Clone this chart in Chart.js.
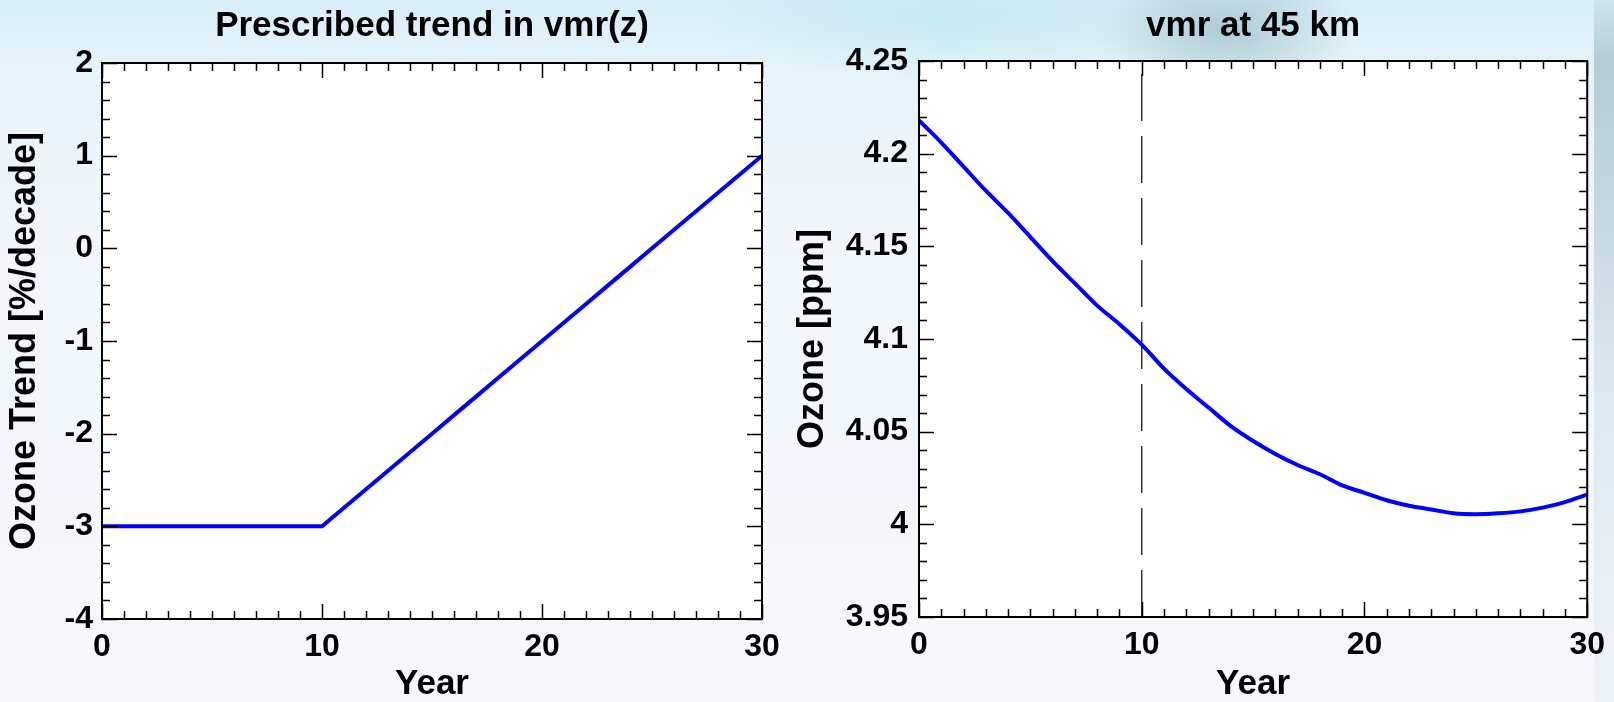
<!DOCTYPE html>
<html>
<head>
<meta charset="utf-8">
<script src="https://cdn.jsdelivr.net/npm/chart.js@4.4.1/dist/chart.umd.min.js"></script>
<style>
  html, body { margin: 0; padding: 0; }
  body {
    width: 1614px;
    height: 702px;
    overflow: hidden;
    position: relative;
    background:
      radial-gradient(ellipse 130px 75px at 1225px 30px, rgba(140, 178, 190, 0.6), rgba(140, 178, 190, 0) 100%),
      radial-gradient(ellipse 260px 60px at 950px 20px, rgba(190, 232, 240, 0.7), rgba(190, 232, 240, 0) 100%),
      linear-gradient(to bottom, #d8eef8 0px, #e6f3fa 70px, #f0f6fb 220px, #f6f9fc 702px);
  }
  #edge {
    position: absolute; left: 1594px; top: 0; width: 20px; height: 702px;
    background: linear-gradient(to bottom, #cfe4ec 0px, #b4cdd5 60px, #c4d6df 200px, #dfe9f1 400px, #eef3f8 702px);
  }
  #leftBox { position: absolute; left: 0; top: 0; }
  #rightBox { position: absolute; left: 790px; top: 0; }
</style>
</head>
<body>
<div id="edge"></div>
<div id="leftBox"><canvas id="trendChart" width="790" height="702"></canvas></div>
<div id="rightBox"><canvas id="vmrChart" width="824" height="702"></canvas></div>
<script>
// values
const years = [0, 1, 2, 3, 4, 5, 6, 7, 8, 9, 10, 11, 12, 13, 14, 15, 16, 17, 18, 19, 20,
               21, 22, 23, 24, 25, 26, 27, 28, 29, 30];
const trendValues = [-3, -3, -3, -3, -3, -3, -3, -3, -3, -3, -3, -2.8, -2.6, -2.4, -2.2, -2.0,
                     -1.8, -1.6, -1.4, -1.2, -1.0, -0.8, -0.6, -0.4, -0.2, 0, 0.2, 0.4, 0.6, 0.8, 1.0];
const vmrValues = [4.218, 4.206, 4.193, 4.180, 4.168, 4.155, 4.142, 4.130, 4.118, 4.108, 4.097,
                   4.084, 4.073, 4.063, 4.053, 4.045, 4.038, 4.032, 4.027, 4.021, 4.017,
                   4.013, 4.010, 4.008, 4.006, 4.0055, 4.006, 4.007, 4.009, 4.012, 4.016];
const xTickValues = [0, 10, 20, 30];
const trendTicks = [-4, -3, -2, -1, 0, 1, 2];
const vmrTicks = [3.95, 4, 4.05, 4.1, 4.15, 4.2, 4.25];
const markerYear = 10;

const FONT = '"Liberation Sans", Arial, Helvetica, sans-serif';

// white plot area, black frame, inward major/minor ticks on all four sides
const framePlugin = {
    id: 'frame',
    beforeDraw(chart) {
        const { ctx, chartArea: a } = chart;
        ctx.save();
        ctx.fillStyle = '#ffffff';
        ctx.fillRect(a.left, a.top, a.width, a.height);
        ctx.restore();
    },
    afterDraw(chart, args, opts) {
        const { ctx, chartArea: a } = chart;
        const x = chart.scales.x;
        const y = chart.scales.y;
        ctx.save();
        ctx.strokeStyle = '#000';
        ctx.lineWidth = 1.5;
        ctx.beginPath();

        const nx = Math.round((x.max - x.min) / opts.xMinor);
        for (let i = 0; i <= nx; i++) {
            const v = x.min + i * opts.xMinor;
            const r = v / opts.xMajor;
            const len = Math.abs(r - Math.round(r)) < 1e-6 ? 15 : 8;
            const px = Math.round(x.getPixelForValue(v)) + 0.5;
            ctx.moveTo(px, a.bottom); ctx.lineTo(px, a.bottom - len);
            ctx.moveTo(px, a.top); ctx.lineTo(px, a.top + len);
        }

        const ny = Math.round((y.max - y.min) / opts.yMinor);
        for (let i = 0; i <= ny; i++) {
            const v = y.min + i * opts.yMinor;
            const r = (v - y.min) / opts.yMajor;
            const len = Math.abs(r - Math.round(r)) < 1e-6 ? 15 : 8;
            const py = Math.round(y.getPixelForValue(v)) + 0.5;
            ctx.moveTo(a.left, py); ctx.lineTo(a.left + len, py);
            ctx.moveTo(a.right, py); ctx.lineTo(a.right - len, py);
        }
        ctx.stroke();

        ctx.lineWidth = 2;
        ctx.strokeRect(a.left, a.top, a.width, a.height);
        ctx.restore();
    }
};

function makeOptions(cfg) {
    return {
        responsive: false,
        animation: false,
        layout: { padding: { left: 0, top: 0, right: cfg.rightPad, bottom: 0 } },
        plugins: {
            legend: { display: false },
            tooltip: { enabled: false },
            title: {
                display: true,
                text: cfg.title,
                fullSize: false,
                color: '#000',
                font: { family: FONT, size: 35, weight: 'bold', lineHeight: 1 },
                padding: { top: 8.5, bottom: cfg.titleBottom }
            },
            frame: cfg.frame
        },
        scales: {
            x: {
                type: 'linear',
                min: 0,
                max: 30,
                afterBuildTicks: s => { s.ticks = xTickValues.map(v => ({ value: v })); },
                afterFit: s => { s.height = cfg.xHeight; },
                grid: { display: false, drawTicks: false },
                border: { display: false },
                ticks: {
                    color: '#000',
                    padding: 9,
                    maxRotation: 0,
                    autoSkip: false,
                    font: { family: FONT, size: 32, weight: 'bold' },
                    callback: v => String(v)
                },
                title: {
                    display: true,
                    text: 'Year',
                    color: '#000',
                    font: { family: FONT, size: 35, weight: 'bold', lineHeight: 1 },
                    padding: { top: 0, bottom: 0 }
                }
            },
            y: {
                type: 'linear',
                min: cfg.yMin,
                max: cfg.yMax,
                afterBuildTicks: s => { s.ticks = cfg.yTicks.map(v => ({ value: v })); },
                afterFit: s => { s.width = cfg.yWidth; },
                grid: { display: false, drawTicks: false },
                border: { display: false },
                ticks: {
                    color: '#000',
                    padding: cfg.yTickPad,
                    autoSkip: false,
                    font: { family: FONT, size: 32, weight: 'bold' },
                    callback: v => String(+v.toFixed(2))
                },
                title: {
                    display: true,
                    text: cfg.yTitle,
                    color: '#000',
                    font: { family: FONT, size: 36, weight: 'bold', lineHeight: 1 },
                    padding: { top: cfg.yTitlePad, bottom: 0 }
                }
            }
        }
    };
}

new Chart(document.getElementById('trendChart').getContext('2d'), {
    type: 'line',
    data: {
        datasets: [{
            data: years.map((yr, i) => ({ x: yr, y: trendValues[i] })),
            borderColor: '#0000ff',
            borderWidth: 4,
            pointRadius: 0,
            tension: 0
        }]
    },
    options: makeOptions({
        title: 'Prescribed trend in vmr(z)',
        titleBottom: 19.5,
        rightPad: 28,
        xHeight: 83,
        yMin: -4,
        yMax: 2,
        yTicks: trendTicks,
        yWidth: 102,
        yTickPad: 9,
        yTitle: 'Ozone Trend [%/decade]',
        yTitlePad: 7,
        frame: { xMinor: 1, xMajor: 10, yMinor: 0.2, yMajor: 1 }
    }),
    plugins: [framePlugin]
});

new Chart(document.getElementById('vmrChart').getContext('2d'), {
    type: 'line',
    data: {
        datasets: [{
            data: years.map((yr, i) => ({ x: yr, y: vmrValues[i] })),
            borderColor: '#0000ff',
            borderWidth: 4,
            pointRadius: 0,
            cubicInterpolationMode: 'monotone'
        }, {
            data: [{ x: markerYear, y: vmrTicks[0] }, { x: markerYear, y: vmrTicks[vmrTicks.length - 1] }],
            borderColor: '#333',
            borderWidth: 1.5,
            borderDash: [47, 15],
            pointRadius: 0
        }]
    },
    options: makeOptions({
        title: 'vmr at 45 km',
        titleBottom: 17.5,
        rightPad: 23,
        xHeight: 85,
        yMin: 3.95,
        yMax: 4.25,
        yTicks: vmrTicks,
        yWidth: 129,
        yTickPad: 11,
        yTitle: 'Ozone [ppm]',
        yTitlePad: 5,
        frame: { xMinor: 1, xMajor: 10, yMinor: 0.01, yMajor: 0.05 }
    }),
    plugins: [framePlugin]
});
</script>
</body>
</html>
